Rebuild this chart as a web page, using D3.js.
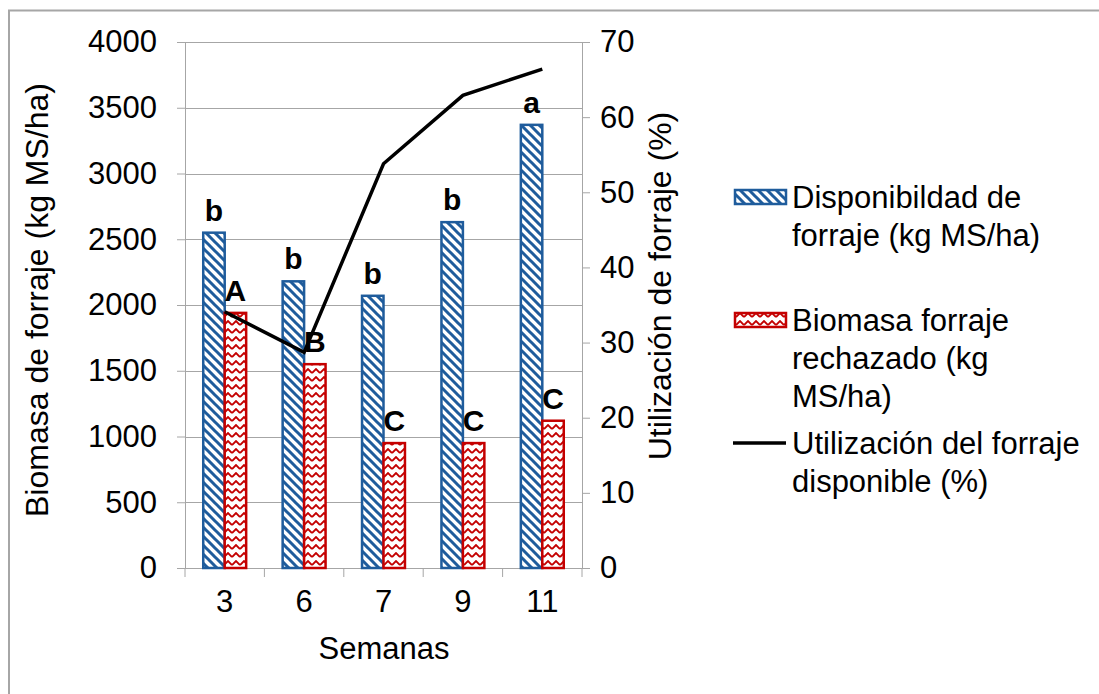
<!DOCTYPE html>
<html>
<head>
<meta charset="utf-8">
<script src="https://cdn.jsdelivr.net/npm/d3@7"></script>
<style>
	body { margin: 0; background: #fff; }
	svg { display: block; font-family: "Liberation Sans", Arial, sans-serif; }
</style>
</head>
<body>
<div class="chart"></div>
<script>
	var semanas = ['3', '6', '7', '9', '11'];
	var disponibilidad = [2550, 2180, 2070, 2630, 3370];
	var rechazado = [1940, 1550, 950, 950, 1120];
	var utilizacion = [34.1, 28.7, 53.8, 62.9, 66.4];
	var letrasDisp = ['b', 'b', 'b', 'b', 'a'];
	var letrasRech = ['A', 'B', 'C', 'C', 'C'];
	var ticksIzq = [0, 500, 1000, 1500, 2000, 2500, 3000, 3500, 4000];
	var ticksDer = [0, 10, 20, 30, 40, 50, 60, 70];

	var W = 1099, H = 694;
	var plot = { left: 185, right: 582, top: 42, bottom: 568 };
	var azul = '#1f5c9c', rojo = '#c40000', gris = '#a6a6a6';
	var fs = '31px';

	var svg = d3.select('.chart').append('svg')
		.attr('width', W)
		.attr('height', H);

	// patrones de relleno (rayas y zigzag)
	var defs = svg.append('defs');
	var rayas = defs.append('pattern')
		.attr('id', 'rayas')
		.attr('patternUnits', 'userSpaceOnUse')
		.attr('width', 9).attr('height', 9);
	rayas.append('rect').attr('width', 9).attr('height', 9).attr('fill', '#fff');
	rayas.append('path')
		.attr('d', 'M-2,-2 L11,11 M-2,7 L2,11 M7,-2 L11,2')
		.attr('stroke', azul).attr('stroke-width', 3);

	var zigzag = defs.append('pattern')
		.attr('id', 'zigzag')
		.attr('patternUnits', 'userSpaceOnUse')
		.attr('width', 8).attr('height', 8);
	zigzag.append('rect').attr('width', 8).attr('height', 8).attr('fill', '#fff');
	zigzag.append('path')
		.attr('d', 'M0,5 L4,1 L8,5')
		.attr('fill', 'none')
		.attr('stroke', rojo).attr('stroke-width', 1.8);

	// marco exterior
	svg.append('rect')
		.attr('x', 9).attr('y', 10.5)
		.attr('width', W).attr('height', H)
		.attr('fill', 'none')
		.attr('stroke', gris).attr('stroke-width', 2);

	var x = d3.scaleBand()
		.domain(semanas)
		.range([plot.left, plot.right]);

	var xSerie = d3.scaleBand()
		.domain(['disp', 'rech'])
		.range([0, x.bandwidth()])
		.paddingOuter(0.85);

	var yIzq = d3.scaleLinear().domain([0, 4000]).range([plot.bottom, plot.top]);
	var yDer = d3.scaleLinear().domain([0, 70]).range([plot.bottom, plot.top]);

	// lineas de grilla
	svg.append('g').selectAll('line')
		.data(ticksIzq)
		.enter()
		.append('line')
		.attr('x1', plot.left).attr('x2', plot.right)
		.attr('y1', function(d){ return Math.round(yIzq(d)) + 0.5; })
		.attr('y2', function(d){ return Math.round(yIzq(d)) + 0.5; })
		.attr('stroke', gris);

	// ejes
	var ejeIzq = svg.append('g')
		.attr('transform', 'translate(' + plot.left + ',0)')
		.call(d3.axisLeft(yIzq).tickValues(ticksIzq).tickFormat(d3.format('d')).tickSize(8).tickPadding(20));

	var ejeDer = svg.append('g')
		.attr('transform', 'translate(' + plot.right + ',0)')
		.call(d3.axisRight(yDer).tickValues(ticksDer).tickSize(8).tickPadding(10));

	var ejeX = svg.append('g')
		.attr('transform', 'translate(0,' + plot.bottom + ')')
		.call(d3.axisBottom(x).tickSize(0).tickPadding(22));

	// marcas entre categorias
	ejeX.selectAll('.sep')
		.data(semanas.concat(['fin']))
		.enter()
		.append('line')
		.attr('class', 'sep')
		.attr('x1', function(d, i){ return plot.left + i * x.step(); })
		.attr('x2', function(d, i){ return plot.left + i * x.step(); })
		.attr('y1', 0).attr('y2', 9)
		.attr('stroke', gris);

	[ejeIzq, ejeDer, ejeX].forEach(function(g){
		g.select('.domain').attr('stroke', gris);
		g.selectAll('.tick line').attr('stroke', gris);
		g.selectAll('.tick text')
			.attr('font-size', fs)
			.attr('fill', '#000')
			.style('font-family', '"Liberation Sans", Arial, sans-serif');
	});
	ejeX.select('.domain').attr('d', 'M' + plot.left + ',0.5H' + plot.right);

	// barras
	function barras(datos, serie, relleno, borde){
		svg.append('g').selectAll('rect')
			.data(datos)
			.enter()
			.append('rect')
			.attr('x', function(d, i){ return x(semanas[i]) + xSerie(serie); })
			.attr('y', function(d){ return yIzq(d); })
			.attr('width', xSerie.bandwidth())
			.attr('height', function(d){ return plot.bottom - yIzq(d); })
			.attr('fill', relleno)
			.attr('stroke', borde)
			.attr('stroke-width', 2.5);
	}
	barras(disponibilidad, 'disp', 'url(#rayas)', azul);
	barras(rechazado, 'rech', 'url(#zigzag)', rojo);

	// letras de significancia
	function letras(datos, txt, serie){
		svg.append('g').selectAll('text')
			.data(datos)
			.enter()
			.append('text')
			.attr('x', function(d, i){ return x(semanas[i]) + xSerie(serie) + xSerie.bandwidth() / 2; })
			.attr('y', function(d){ return yIzq(d) - 12; })
			.attr('text-anchor', 'middle')
			.attr('font-size', '30px')
			.attr('font-weight', 'bold')
			.text(function(d, i){ return txt[i]; });
	}
	letras(disponibilidad, letrasDisp, 'disp');
	letras(rechazado, letrasRech, 'rech');

	// linea de utilizacion
	var linea = d3.line()
		.x(function(d, i){ return x(semanas[i]) + x.bandwidth() / 2; })
		.y(function(d){ return yDer(d); });

	svg.append('path')
		.datum(utilizacion)
		.attr('d', linea)
		.attr('fill', 'none')
		.attr('stroke', '#000')
		.attr('stroke-width', 3.5);

	// titulos
	svg.append('text')
		.attr('x', 384).attr('y', 659)
		.attr('text-anchor', 'middle')
		.attr('font-size', fs)
		.text('Semanas');

	svg.append('text')
		.attr('transform', 'translate(48,' + 300 + ') rotate(-90)')
		.attr('text-anchor', 'middle')
		.attr('font-size', '32px')
		.text('Biomasa de forraje (kg MS/ha)');

	svg.append('text')
		.attr('transform', 'translate(671,' + 286 + ') rotate(-90)')
		.attr('text-anchor', 'middle')
		.attr('font-size', '32px')
		.text('Utilización de forraje (%)');

	// leyenda
	var leyenda = [
		{ tipo: 'disp', lineas: ['Disponibildad de', 'forraje (kg MS/ha)'], y: 197 },
		{ tipo: 'rech', lineas: ['Biomasa forraje', 'rechazado (kg', 'MS/ha)'], y: 320 },
		{ tipo: 'util', lineas: ['Utilización del forraje', 'disponible (%)'], y: 443 }
	];

	var item = svg.append('g').selectAll('g')
		.data(leyenda)
		.enter()
		.append('g')
		.attr('transform', function(d){ return 'translate(0,' + d.y + ')'; });

	item.filter(function(d){ return d.tipo !== 'util'; })
		.append('rect')
		.attr('x', 735).attr('y', -7)
		.attr('width', 51).attr('height', 14)
		.attr('fill', function(d){ return d.tipo === 'disp' ? 'url(#rayas)' : 'url(#zigzag)'; })
		.attr('stroke', function(d){ return d.tipo === 'disp' ? azul : rojo; })
		.attr('stroke-width', 2.5);

	item.filter(function(d){ return d.tipo === 'util'; })
		.append('line')
		.attr('x1', 733).attr('x2', 786)
		.attr('y1', 0).attr('y2', 0)
		.attr('stroke', '#000')
		.attr('stroke-width', 3.5);

	item.append('text')
		.attr('font-size', fs)
		.selectAll('tspan')
		.data(function(d){ return d.lineas; })
		.enter()
		.append('tspan')
		.attr('x', 792)
		.attr('y', function(d, i){ return i * 38 + 11; })
		.text(function(d){ return d; });
</script>
</body>
</html>
